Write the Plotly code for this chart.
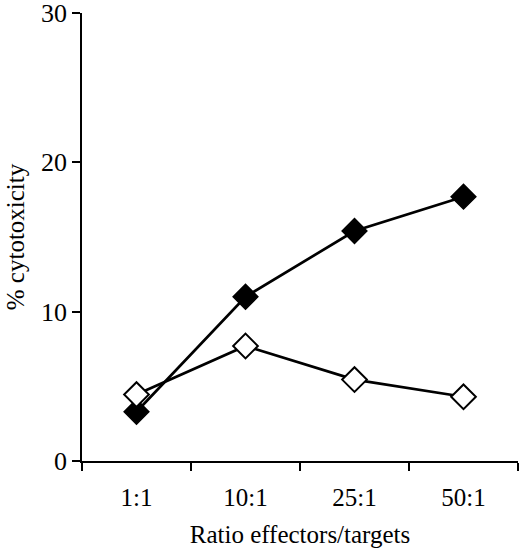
import plotly.graph_objects as go

# ratios and % cytotoxicity
ratios = ['1:1', '10:1', '25:1', '50:1']
filled_vals = [3.3, 11.0, 15.4, 17.7]
open_vals = [4.45, 7.7, 5.45, 4.3]
y_ticks = [0, 10, 20, 30]

font = dict(family='Liberation Serif', size=25, color='black')
yfont = dict(family='Liberation Serif', size=26, color='black')

fig = go.Figure()
fig.add_trace(go.Scatter(
    x=ratios, y=filled_vals, mode='lines+markers',
    line=dict(color='black', width=2.7),
    marker=dict(symbol='diamond', size=19, color='black',
                line=dict(color='black', width=1.5)),
    showlegend=False,
))
fig.add_trace(go.Scatter(
    x=ratios, y=open_vals, mode='lines+markers',
    line=dict(color='black', width=2.7),
    marker=dict(symbol='diamond', size=19, color='white',
                line=dict(color='black', width=2)),
    showlegend=False,
))

fig.update_layout(
    width=520, height=557,
    margin=dict(l=82, r=2, t=13, b=96),
    paper_bgcolor='white', plot_bgcolor='white',
    font=font,
)
fig.update_xaxes(
    type='category', range=[-0.5, 3.5], automargin=False,
    tickson='boundaries', ticks='outside', ticklen=8, tickwidth=1.5,
    tickcolor='black', showline=True, linecolor='black', linewidth=1.5,
    showgrid=False, zeroline=False, ticklabeloverflow='allow',
    ticklabelstandoff=13,
    tickfont=font,
    title=dict(text='Ratio effectors/targets', font=font, standoff=16),
)
fig.update_yaxes(
    range=[0, 30], tickvals=y_ticks, automargin=False,
    ticks='outside', ticklen=8, tickwidth=1.5, tickcolor='black',
    showline=True, linecolor='black', linewidth=1.5,
    showgrid=False, zeroline=False, ticklabeloverflow='allow',
    tickfont=yfont,
    title=dict(text='% cytotoxicity', font=font, standoff=9),
)

# page default body margin would shift the chart by 8px
fig.write_html('out.html', config={'displayModeBar': False},
               post_script="document.body.style.margin='0';")
